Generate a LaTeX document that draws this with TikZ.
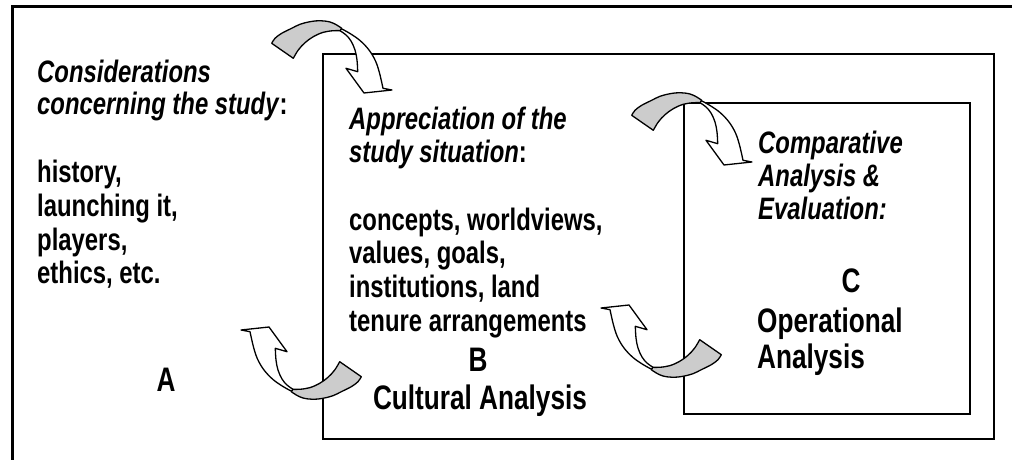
\documentclass[tikz,border=0pt]{standalone}
\usepackage{fontspec}
\newfontfamily\narrowsans{Liberation Sans}[FakeStretch=0.77]
\definecolor{bandgray}{RGB}{204,204,204}

% One curved arrow (grey back band turning into a white band with its head);
% drawn in the coordinates of the top-left arrow, moved by the enclosing scope.
\newcommand\drawcyclearrow{%
  \path[band, fill=white]
    plot[smooth, tension=0.6] coordinates {(341,28.5)(350,33.5)(360,40.5)(369,50)(375.5,61)(379.5,73)(383,88.3)}
    -- (392,90) -- (364,93) -- (346,68.3)
    -- plot[smooth, tension=0.6] coordinates {(357.7,71.7)(357,60)(355,50)(351,41)(346,35)(340,30.7)}
    -- cycle;
  \path[band, fill=bandgray]
    plot[smooth, tension=0.6] coordinates {(271.7,43.3)(275,38.3)(281.7,33.3)(291.7,28.3)(300,24.3)(310,21.7)(320,20.7)(330,22)(336.7,25)(341.7,28.3)}
    -- plot[smooth, tension=0.6] coordinates {(340,30.7)(333.3,30.7)(323.3,32.3)(313.3,36.7)(305,42.7)(298.3,50)(293.3,58.3)}
    -- cycle;
}

\begin{document}
\begin{tikzpicture}[x=1bp,y=-1bp,
  txt/.style={font={\narrowsans\bfseries\fontsize{31bp}{34bp}\selectfont}, inner sep=0pt, anchor=base west},
  mid/.style={txt, anchor=base},
  title/.style={font={\narrowsans\bfseries\fontsize{34bp}{38bp}\selectfont}, inner sep=0pt, anchor=base west},
  midtitle/.style={title, anchor=base},
  band/.style={draw=black, line width=1.3bp, line join=round}
]
\useasboundingbox[fill=white] (0,0) rectangle (1012,460);

% frames
\draw[line width=3bp] (12,470) -- (12,7) -- (1025,7);
\draw[line width=2.3bp] (323,54) rectangle (994,439);
\draw[line width=2.1bp] (684,103) rectangle (970,414);

% curved arrows linking the frames
\begin{scope}
  \drawcyclearrow
\end{scope}
\begin{scope}[shift={(360,72)}]
  \drawcyclearrow
\end{scope}
\begin{scope}[shift={(633,420)}, rotate=180]
  \drawcyclearrow
\end{scope}
\begin{scope}[shift={(993,398)}, rotate=180]
  \drawcyclearrow
\end{scope}

% A: considerations
\node[txt] (a1) at (37,83) {\itshape Considerations};
\node[txt] (a2) at (37,115) {\textit{concerning the study}:};
\node[txt] (a3) at (37,183) {history,};
\node[txt] (a4) at (37,217) {launching it,};
\node[txt] (a5) at (37,251) {players,};
\node[txt] (a6) at (37,284) {ethics, etc.};
\node[midtitle] (A) at (166,392) {A};

% B: cultural analysis
\node[txt] (b1) at (349,130) {\itshape Appreciation of the};
\node[txt] (b2) at (349,163) {\textit{study situation}:};
\node[txt] (b3) at (349,231) {concepts, worldviews,};
\node[txt] (b4) at (349,264) {values, goals,};
\node[txt] (b5) at (349,298) {institutions, land};
\node[txt] (b6) at (349,332) {tenure arrangements};
\node[midtitle] (B) at (478,372) {B};
\node[midtitle] (b7) at (480,409) {Cultural Analysis};

% C: operational analysis
\node[txt] (c1) at (758,154) {\itshape Comparative};
\node[txt] (c2) at (758,187) {\itshape Analysis \&};
\node[txt] (c3) at (758,220) {\itshape Evaluation:};
\node[midtitle] (C) at (851,293) {C};
\node[title] (c4) at (757,333) {Operational};
\node[title] (c5) at (757,369) {Analysis};
\end{tikzpicture}
\end{document}
